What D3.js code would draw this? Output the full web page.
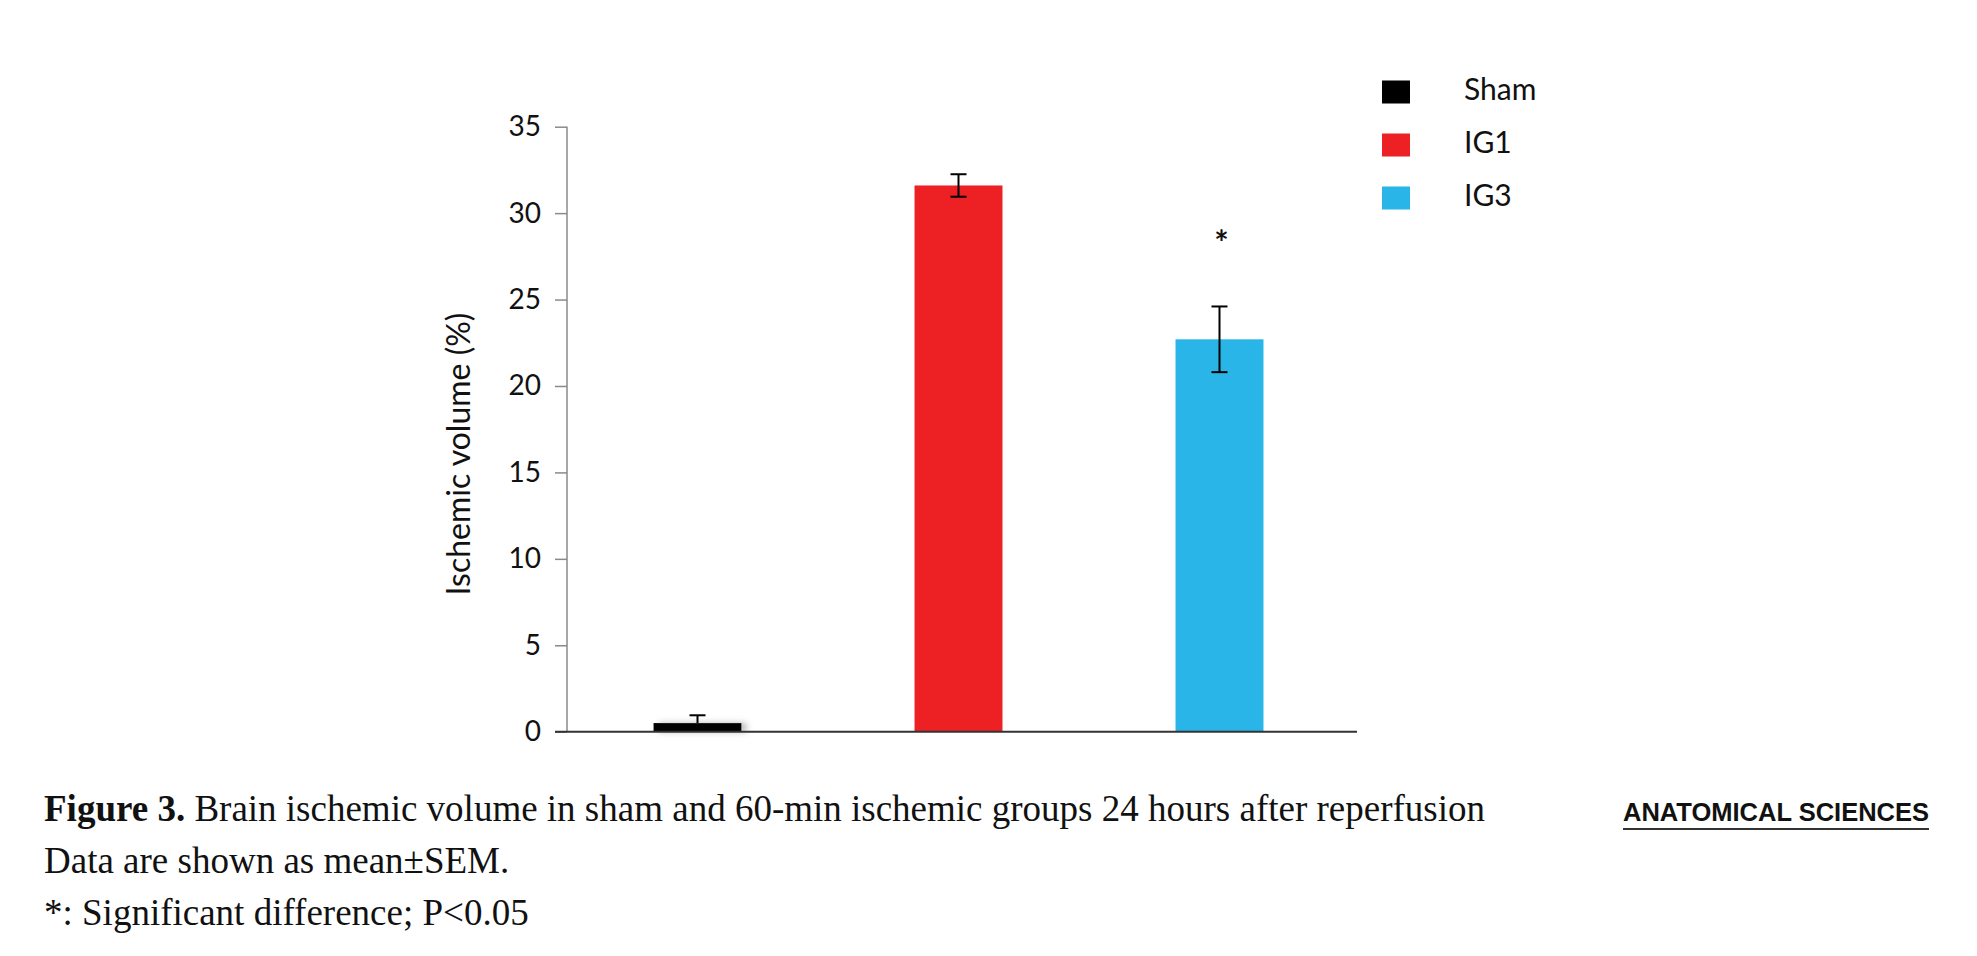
<!DOCTYPE html>
<html>
<head>
<meta charset="utf-8">
<script src="https://cdn.jsdelivr.net/npm/d3@7.9.0/dist/d3.min.js"></script>
<style>
  body { margin: 0; background: #fff; }
  svg { display: block; }
</style>
</head>
<body>
<script>
// chart data
const groups = ["Sham", "IG1", "IG3"];
const means = [0.5, 31.6, 22.7];
const sems = [0.45, 0.65, 1.9];
const significant = [false, false, true];
const barColors = ["#000000", "#ED2024", "#29B5E8"];
const yTicks = [0, 5, 10, 15, 20, 25, 30, 35];

const captionLines = [
  { bold: "Figure 3.", text: " Brain ischemic volume in sham and 60-min ischemic groups 24 hours after reperfusion" },
  { bold: "", text: "Data are shown as mean\u00B1SEM." },
  { bold: "", text: "*: Significant difference; P<0.05" }
];

const width = 1977, height = 956;
const plot = { left: 567, right: 1350, top: 126.7, bottom: 731.7 };

const svg = d3.select("body").append("svg")
    .attr("width", width)
    .attr("height", height)
    .style("background", "#fff");

// soft shadow seen next to the sham bar
const defs = svg.append("defs");
defs.append("filter")
    .attr("id", "shade")
    .attr("x", "-20%").attr("y", "-100%")
    .attr("width", "150%").attr("height", "300%")
  .append("feDropShadow")
    .attr("dx", 5).attr("dy", 0)
    .attr("stdDeviation", 3)
    .attr("flood-color", "#999")
    .attr("flood-opacity", 0.7);

const x = d3.scaleBand()
    .domain(groups)
    .range([plot.left, plot.right])
    .paddingInner(0.663)
    .paddingOuter(0.3315);

const y = d3.scaleLinear()
    .domain([0, 35])
    .range([plot.bottom, plot.top]);

// y axis
const yAxis = svg.append("g")
    .attr("transform", `translate(${plot.left},0)`)
    .call(d3.axisLeft(y).tickValues(yTicks).tickSize(12).tickPadding(14));

yAxis.select(".domain")
    .attr("d", `M0,${y(35)}V${y(0)}`)
    .attr("stroke", "#8a8a8a")
    .attr("stroke-width", 1.5);
yAxis.selectAll(".tick line")
    .attr("stroke", "#8a8a8a")
    .attr("stroke-width", 1.5);
yAxis.selectAll(".tick text")
    .attr("fill", "#111")
    .style("font-family", "Lato, 'Open Sans', sans-serif")
    .style("font-size", "28px");

svg.append("text")
    .attr("transform", `translate(470,454) rotate(-90)`)
    .attr("text-anchor", "middle")
    .style("font-family", "Lato, 'Open Sans', sans-serif")
    .style("font-size", "32px")
    .attr("fill", "#111")
    .text("Ischemic volume (%)");

// bars
svg.selectAll("rect.bar")
    .data(groups)
    .enter()
    .append("rect")
    .attr("class", "bar")
    .attr("x", d => x(d))
    .attr("y", (d, i) => y(means[i]))
    .attr("width", x.bandwidth())
    .attr("height", (d, i) => y(0) - y(means[i]))
    .attr("fill", (d, i) => barColors[i])
    .attr("filter", (d, i) => i === 0 ? "url(#shade)" : null);

// x axis baseline (drawn over bars)
svg.append("line")
    .attr("x1", plot.left - 12)
    .attr("x2", 1357)
    .attr("y1", y(0))
    .attr("y2", y(0))
    .attr("stroke", "#333")
    .attr("stroke-width", 2);

// error bars
const capW = 16;
const errs = svg.append("g")
    .attr("stroke", "#000")
    .attr("stroke-width", 2)
    .attr("fill", "none");

groups.forEach((g, i) => {
    const cx = x(g) + x.bandwidth() / 2;
    const top = y(means[i] + sems[i]);
    const low = i === 0 ? y(means[i]) : y(means[i] - sems[i]);
    errs.append("line")
        .attr("x1", cx).attr("x2", cx)
        .attr("y1", top).attr("y2", low);
    errs.append("line")
        .attr("x1", cx - capW / 2).attr("x2", cx + capW / 2)
        .attr("y1", top).attr("y2", top);
    if (i !== 0) {
        errs.append("line")
            .attr("x1", cx - capW / 2).attr("x2", cx + capW / 2)
            .attr("y1", low).attr("y2", low);
    }
    if (significant[i]) {
        svg.append("text")
            .attr("x", cx + 2)
            .attr("y", y(means[i] + sems[i]) - 51)
            .attr("text-anchor", "middle")
            .style("font-family", "Lato, 'Open Sans', sans-serif")
            .style("font-size", "34px")
            .style("font-weight", "bold")
            .attr("fill", "#111")
            .text("*");
    }
});

// legend
const legend = svg.append("g")
    .attr("transform", "translate(1382,92)");

const legendRow = legend.selectAll("g")
    .data(groups)
    .enter()
    .append("g")
    .attr("transform", (d, i) => `translate(0,${i * 53})`);

legendRow.append("rect")
    .attr("x", 0)
    .attr("y", -11.5)
    .attr("width", 28)
    .attr("height", 23)
    .attr("fill", (d, i) => barColors[i]);

legendRow.append("text")
    .attr("x", 82)
    .attr("y", 8)
    .style("font-family", "Lato, 'Open Sans', sans-serif")
    .style("font-size", "30px")
    .attr("fill", "#111")
    .text(d => d);

// caption below the chart
const caption = svg.append("g")
    .style("font-family", "'Liberation Serif', 'DejaVu Serif', serif")
    .style("font-size", "37px")
    .attr("fill", "#111");

captionLines.forEach((line, i) => {
    const t = caption.append("text")
        .attr("x", 44)
        .attr("y", 821 + i * 52);
    if (line.bold) {
        t.append("tspan").style("font-weight", "bold").text(line.bold);
    }
    t.append("tspan").text(line.text);
});

// journal mark
svg.append("text")
    .attr("x", 1623)
    .attr("y", 821)
    .attr("textLength", 306)
    .attr("lengthAdjust", "spacingAndGlyphs")
    .style("font-family", "'Liberation Sans', Arial, sans-serif")
    .style("font-weight", "bold")
    .style("font-size", "26px")
    .attr("fill", "#111")
    .text("ANATOMICAL SCIENCES");

svg.append("line")
    .attr("x1", 1623).attr("x2", 1929)
    .attr("y1", 829).attr("y2", 829)
    .attr("stroke", "#333")
    .attr("stroke-width", 2);
</script>
</body>
</html>
